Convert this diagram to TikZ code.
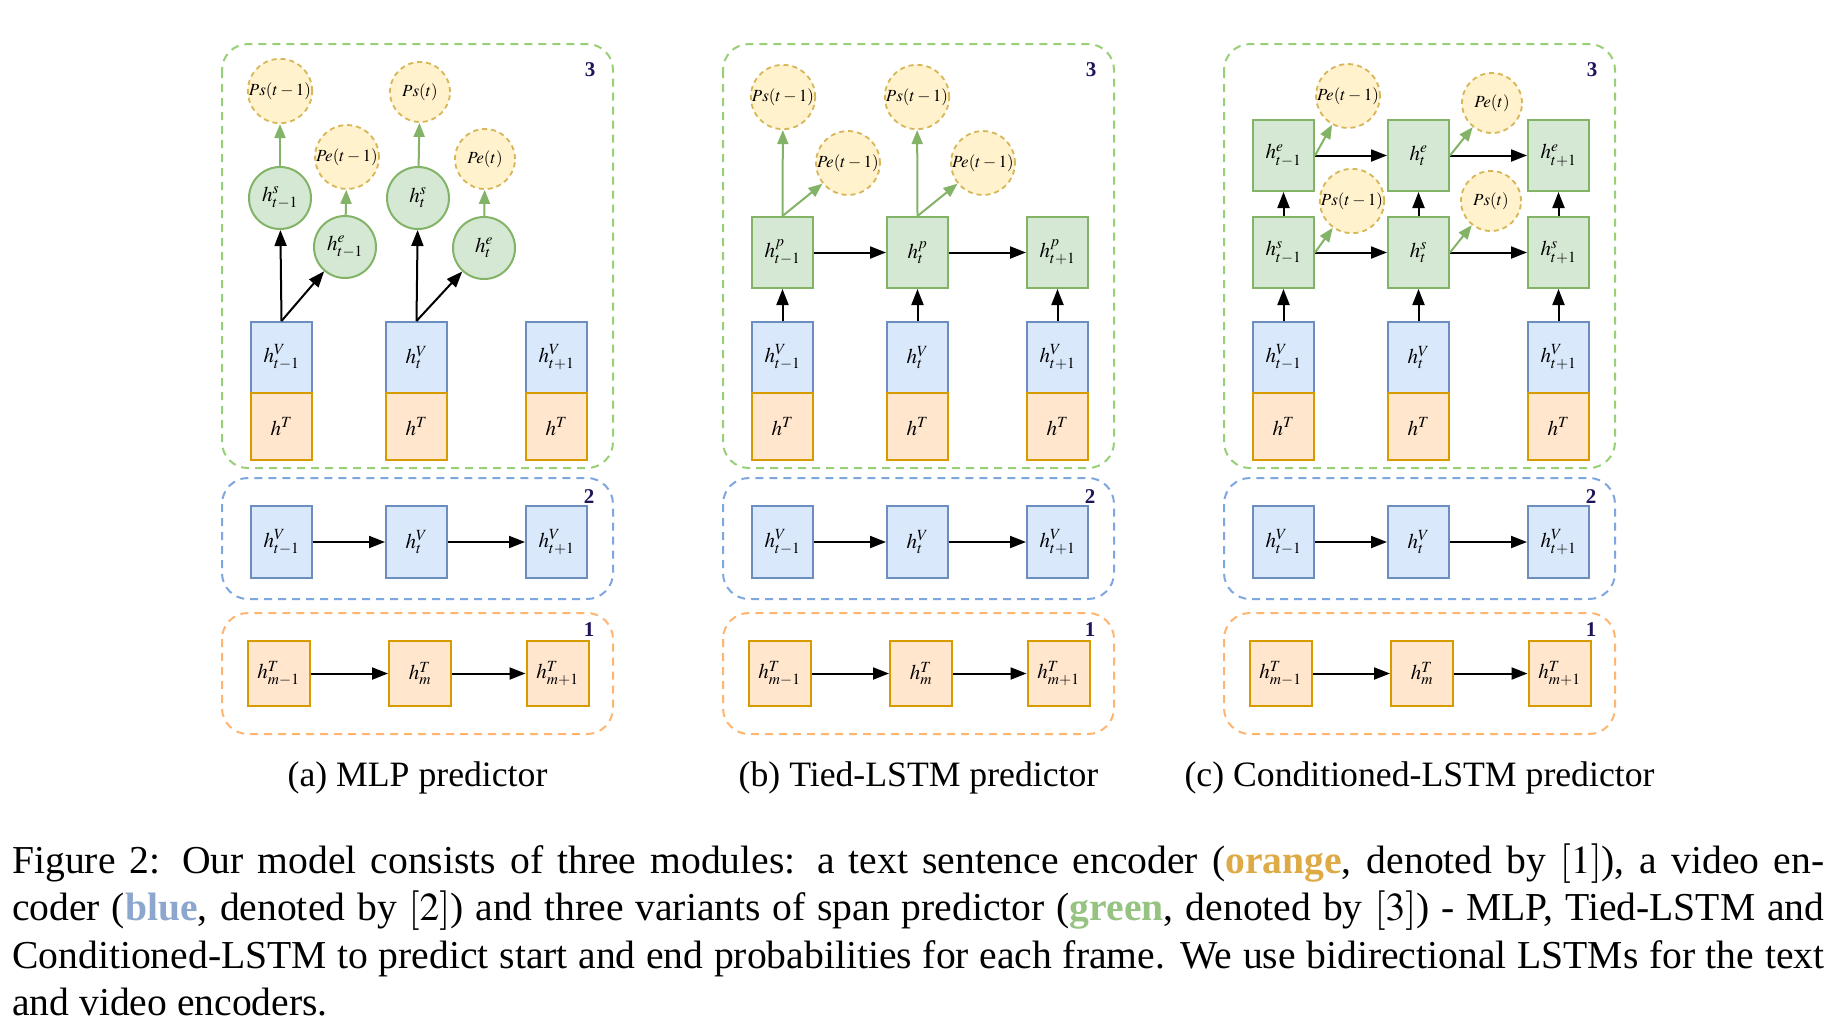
\documentclass[tikz,border=0pt]{standalone}
\usepackage{mathptmx}
\usepackage{fontspec}
\setmainfont{Liberation Serif}
\usetikzlibrary{arrows.meta}
\definecolor{vfill}{HTML}{DAE8FC}\definecolor{vdraw}{HTML}{6C8EBF}
\definecolor{tfill}{HTML}{FFE6CC}\definecolor{tdraw}{HTML}{D79B00}
\definecolor{gfill}{HTML}{D5E8D4}\definecolor{gdraw}{HTML}{82B366}
\definecolor{pfill}{HTML}{FFF2CC}\definecolor{pdraw}{HTML}{D6B656}
\definecolor{contgreen}{HTML}{97D077}\definecolor{contblue}{HTML}{7EA6E0}
\definecolor{contorange}{HTML}{FFB570}\definecolor{numcol}{HTML}{1E145A}
\definecolor{capor}{RGB}{222,170,70}\definecolor{capbl}{RGB}{140,166,206}
\definecolor{capgr}{RGB}{150,195,130}
\tikzset{
  lbl/.style={font=\fontsize{21}{25}\selectfont},
  vnode/.style={rectangle,draw=vdraw,fill=vfill,line width=2pt,minimum width=61pt,minimum height=71pt,inner sep=0pt,lbl},
  tnode/.style={rectangle,draw=tdraw,fill=tfill,line width=2pt,minimum width=61pt,minimum height=67pt,inner sep=0pt,lbl},
  gnode/.style={rectangle,draw=gdraw,fill=gfill,line width=2pt,minimum width=61pt,minimum height=71pt,inner sep=0pt,lbl},
  gcirc/.style={circle,draw=gdraw,fill=gfill,line width=2pt,minimum size=62pt,inner sep=0pt,lbl},
  pcirc/.style={circle,draw=pdraw,fill=pfill,line width=1.8pt,dash pattern=on 5pt off 4pt,minimum size=60pt,inner sep=0pt,font=\fontsize{17}{20}\selectfont},
  cont/.style={rounded corners=26pt,line width=2pt,dash pattern=on 8pt off 6pt},
  barr/.style={line width=2pt,black,-{Triangle[length=16pt,width=12pt]}},
  garr/.style={line width=2pt,gdraw,-{Triangle[length=14pt,width=11pt]}},
  num/.style={font=\fontsize{21}{24}\selectfont\bfseries,text=numcol,inner sep=0pt},
  subcap/.style={font=\fontsize{35.7}{43}\selectfont,anchor=base,inner sep=0pt}
}
\newcommand\commonpanel[2]{%
\begin{scope}[xshift=#2pt]
\draw[cont,draw=contgreen] (0,44) rectangle (391,468);
\draw[cont,draw=contblue] (0,478) rectangle (391,599);
\draw[cont,draw=contorange] (0,613) rectangle (391,734);
\node[vnode] (#1V1) at (59.5,357.5) {$h^V_{t-1}$};
\node[vnode] (#1V2) at (194.5,357.5) {$h^V_t$};
\node[vnode] (#1V3) at (334.5,357.5) {$h^V_{t+1}$};
\node[tnode] (#1T1) at (59.5,426.5) {$h^T$};
\node[tnode] (#1T2) at (194.5,426.5) {$h^T$};
\node[tnode] (#1T3) at (334.5,426.5) {$h^T$};
\node[vnode,minimum height=72pt] (#1B1) at (59.5,542) {$h^V_{t-1}$};
\node[vnode,minimum height=72pt] (#1B2) at (194.5,542) {$h^V_t$};
\node[vnode,minimum height=72pt] (#1B3) at (334.5,542) {$h^V_{t+1}$};
\draw[barr] (#1B1) -- (#1B2);
\draw[barr] (#1B2) -- (#1B3);
\node[tnode,minimum width=62pt,minimum height=65pt] (#1M1) at (56.5,673.5) {$h^T_{m-1}$};
\node[tnode,minimum width=62pt,minimum height=65pt] (#1M2) at (198,673.5) {$h^T_m$};
\node[tnode,minimum width=62pt,minimum height=65pt] (#1M3) at (335.5,673.5) {$h^T_{m+1}$};
\draw[barr] (#1M1) -- (#1M2);
\draw[barr] (#1M2) -- (#1M3);
\node[num] (#1n3) at (368,70) {3};
\node[num] (#1n2) at (367,497) {2};
\node[num] (#1n1) at (367,630) {1};
\end{scope}}
\begin{document}
\begin{tikzpicture}[x=1pt,y=-1pt]
\useasboundingbox[fill=white] (0,0) rectangle (1841,1029);
\commonpanel{a}{222}
\commonpanel{b}{723}
\commonpanel{c}{1224}
% panel a
\begin{scope}[xshift=222pt]
\node[gcirc] (as1) at (58,198) {$h^s_{t-1}$};
\node[gcirc] (ae1) at (123,247) {$h^e_{t-1}$};
\node[pcirc] (aps1) at (58,91) {$Ps(t-1)$};
\node[pcirc] (ape1) at (125,157) {$Pe(t-1)$};
\node[gcirc] (as2) at (196,198) {$h^s_t$};
\node[gcirc] (ae2) at (262,248) {$h^e_t$};
\node[pcirc] (aps2) at (198,92) {$Ps(t)$};
\node[pcirc] (ape2) at (263,159) {$Pe(t)$};
\node[subcap] (acap) at (195.5,786) {(a) MLP predictor};
\end{scope}
\draw[barr] (aV1.north) -- (as1);
\draw[barr] (aV1.north) -- (ae1);
\draw[barr] (aV2.north) -- (as2);
\draw[barr] (aV2.north) -- (ae2);
\draw[garr] (as1) -- (aps1);
\draw[garr] (ae1) -- (ape1);
\draw[garr] (as2) -- (aps2);
\draw[garr] (ae2) -- (ape2);
% panel b
\begin{scope}[xshift=723pt]
\node[gnode] (bp1) at (59.5,252.5) {$h^p_{t-1}$};
\node[gnode] (bp2) at (194.5,252.5) {$h^p_t$};
\node[gnode] (bp3) at (334.5,252.5) {$h^p_{t+1}$};
\node[pcirc] (bps1) at (60,97) {$Ps(t-1)$};
\node[pcirc] (bpe1) at (125,163) {$Pe(t-1)$};
\node[pcirc] (bps2) at (194,97) {$Ps(t-1)$};
\node[pcirc] (bpe2) at (260,163) {$Pe(t-1)$};
\node[subcap] (bcap) at (195.5,786) {(b) Tied-LSTM predictor};
\end{scope}
\draw[barr] (bV1) -- (bp1);
\draw[barr] (bV2) -- (bp2);
\draw[barr] (bV3) -- (bp3);
\draw[barr] (bp1) -- (bp2);
\draw[barr] (bp2) -- (bp3);
\draw[garr] (bp1.north) -- (bps1);
\draw[garr] (bp1.north) -- (bpe1);
\draw[garr] (bp2.north) -- (bps2);
\draw[garr] (bp2.north) -- (bpe2);
% panel c
\begin{scope}[xshift=1224pt]
\node[gnode] (cs1) at (59.5,252.5) {$h^s_{t-1}$};
\node[gnode] (cs2) at (194.5,252.5) {$h^s_t$};
\node[gnode] (cs3) at (334.5,252.5) {$h^s_{t+1}$};
\node[gnode] (ce1) at (59.5,155.5) {$h^e_{t-1}$};
\node[gnode] (ce2) at (194.5,155.5) {$h^e_t$};
\node[gnode] (ce3) at (334.5,155.5) {$h^e_{t+1}$};
\node[pcirc] (cpe1) at (124,96) {$Pe(t-1)$};
\node[pcirc] (cps1) at (128,201) {$Ps(t-1)$};
\node[pcirc] (cpe2) at (268,103) {$Pe(t)$};
\node[pcirc] (cps2) at (267,201) {$Ps(t)$};
\node[subcap] (ccap) at (195.5,786) {(c) Conditioned-LSTM predictor};
\end{scope}
\draw[barr] (cV1) -- (cs1);
\draw[barr] (cV2) -- (cs2);
\draw[barr] (cV3) -- (cs3);
\draw[barr] (cs1) -- (ce1);
\draw[barr] (cs2) -- (ce2);
\draw[barr] (cs3) -- (ce3);
\draw[barr] (cs1) -- (cs2);
\draw[barr] (cs2) -- (cs3);
\draw[barr] (ce1) -- (ce2);
\draw[barr] (ce2) -- (ce3);
\draw[garr] (ce1.east) -- (cpe1);
\draw[garr] (cs1.east) -- (cps1);
\draw[garr] (ce2.east) -- (cpe2);
\draw[garr] (cs2.east) -- (cps2);
% caption
\node[anchor=north west,inner sep=0pt,text width=1812pt,align=justify,
      font=\fontsize{39.6}{47.5}\selectfont] (caption) at (12,839.75)
{\noindent\strut\hyphenpenalty=10000 Figure 2: Our model consists of three modules: a text sentence encoder (\textbf{\color{capor}orange}, denoted by $[1]$), a video en-\linebreak coder (\textbf{\color{capbl}blue}, denoted by $[2]$) and three variants of span predictor (\textbf{\color{capgr}green}, denoted by $[3]$) - MLP, Tied-LSTM and\linebreak Conditioned-LSTM to predict start and end probabilities for each frame. We use bidirectional LSTMs for the text\linebreak and video encoders.};
\end{tikzpicture}
\end{document}
